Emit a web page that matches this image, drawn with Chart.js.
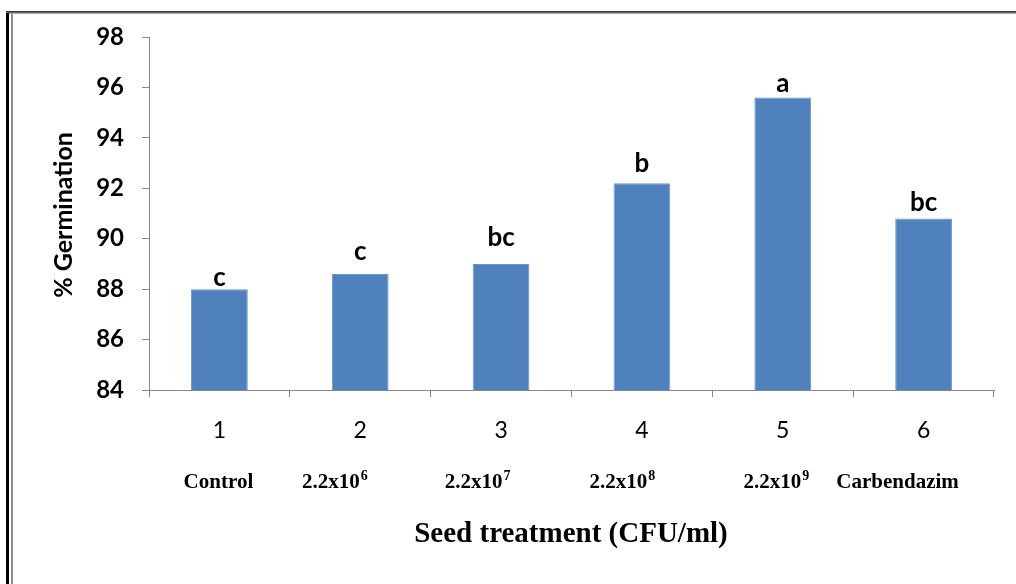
<!DOCTYPE html>
<html>
<head>
<meta charset="utf-8">
<script src="https://cdn.jsdelivr.net/npm/chart.js@4"></script>
<style>
html,body{margin:0;padding:0;background:#fff;}
canvas{display:block;}
</style>
</head>
<body>
<canvas id="c" width="1016" height="584"></canvas>
<script>
// ---- data ----
const categories = ['1', '2', '3', '4', '5', '6'];
const treatments = ['Control', '2.2x10⁶', '2.2x10⁷', '2.2x10⁸', '2.2x10⁹', 'Carbendazim'];
const germination = [88.0, 88.6, 89.0, 92.2, 95.6, 90.8];
const groupLetters = ['c', 'c', 'bc', 'b', 'a', 'bc'];
const yTicks = [84, 86, 88, 90, 92, 94, 96, 98];

// ---- layout / style (not data) ----
const letterGap = [3, 14, 18, 11, 6, 8];          // px above bar top
const treatmentShift = [-1, -26, -24, -20, -7, -26]; // px shift from category centre

const SUP = {'⁰':'0','¹':'1','²':'2','³':'3','⁴':'4','⁵':'5','⁶':'6','⁷':'7','⁸':'8','⁹':'9'};

function drawWithSup(ctx, text, cx, baseline, size) {
  let base = '', sup = '';
  for (const ch of text) { if (SUP[ch]) sup += SUP[ch]; else base += ch; }
  const bigFont = 'bold ' + size + 'px "Liberation Serif", "Times New Roman", serif';
  const smallFont = 'bold ' + Math.round(size * 0.66) + 'px "Liberation Serif", "Times New Roman", serif';
  ctx.font = bigFont;
  const wb = ctx.measureText(base).width;
  ctx.font = smallFont;
  const ws = sup ? ctx.measureText(sup).width : 0;
  const x0 = cx - (wb + ws) / 2;
  ctx.textAlign = 'left';
  ctx.textBaseline = 'alphabetic';
  ctx.font = bigFont;
  ctx.fillText(base, x0, baseline);
  if (sup) {
    ctx.font = smallFont;
    ctx.fillText(sup, x0 + wb + 1, baseline - size * 0.36);
  }
}

const annotate = {
  id: 'annotate',
  afterDraw(chart) {
    const ctx = chart.ctx;
    const xs = chart.scales.x;
    ctx.save();
    // frame
    ctx.fillStyle = '#000';
    ctx.fillRect(6, 12, 3, 572);
    ctx.fillStyle = '#8c8c8c';
    ctx.fillRect(11, 13, 2, 571);
    ctx.fillStyle = '#3a3a3a';
    ctx.fillRect(6, 11, 1010, 1);
    ctx.fillStyle = '#666';
    ctx.fillRect(6, 12, 1010, 1);
    ctx.fillStyle = '#aaa';
    ctx.fillRect(9, 13, 1007, 1);

    ctx.fillStyle = '#000';
    // group letters
    ctx.font = 'bold 26px Lato, "Open Sans", sans-serif';
    ctx.textAlign = 'center';
    ctx.textBaseline = 'alphabetic';
    const meta = chart.getDatasetMeta(0);
    meta.data.forEach((bar, i) => {
      ctx.fillText(groupLetters[i], bar.x, bar.y - letterGap[i]);
    });

    // treatment row
    categories.forEach((c, i) => {
      const cx = xs.getPixelForValue(i) + treatmentShift[i];
      drawWithSup(ctx, treatments[i], cx, 488, 21);
    });

    // x title
    ctx.font = 'bold 29px "Liberation Serif", "Times New Roman", serif';
    ctx.textAlign = 'center';
    ctx.textBaseline = 'alphabetic';
    ctx.fillText('Seed treatment (CFU/ml)', 571, 542);

    // y title
    ctx.translate(64, 215);
    ctx.rotate(-Math.PI / 2);
    ctx.font = 'bold 25px Lato, "Open Sans", sans-serif';
    ctx.textAlign = 'center';
    ctx.textBaseline = 'middle';
    ctx.fillText('% Germination', 0, 0);
    ctx.restore();
  }
};

new Chart(document.getElementById('c'), {
  type: 'bar',
  data: {
    labels: categories,
    datasets: [{
      data: germination,
      backgroundColor: '#4F81BD',
      borderColor: '#6d96cb',
      borderWidth: 1,
      categoryPercentage: 1.0,
      barPercentage: 0.403
    }]
  },
  options: {
    responsive: false,
    animation: false,
    devicePixelRatio: 1,
    layout: { padding: { left: 0, top: 37, right: 22, bottom: 0 } },
    plugins: { legend: { display: false }, tooltip: { enabled: false } },
    scales: {
      x: {
        afterFit(s) { s.height = 194; },
        grid: { drawOnChartArea: false, color: '#888', tickColor: '#888', tickLength: 7, offset: true },
        border: { color: '#888', width: 1 },
        ticks: { color: '#000', padding: 20, font: { family: 'Lato, "Open Sans", sans-serif', size: 23 } }
      },
      y: {
        min: 84, max: 98,
        afterFit(s) { s.width = 149; },
        afterBuildTicks(s) { s.ticks = yTicks.map(v => ({ value: v })); },
        grid: { drawOnChartArea: false, color: '#888', tickColor: '#888', tickLength: 7 },
        border: { color: '#888', width: 1 },
        ticks: { color: '#000', padding: 18, font: { family: 'Lato, "Open Sans", sans-serif', size: 24, weight: 'bold' } }
      }
    }
  },
  plugins: [annotate]
});
</script>
</body>
</html>
